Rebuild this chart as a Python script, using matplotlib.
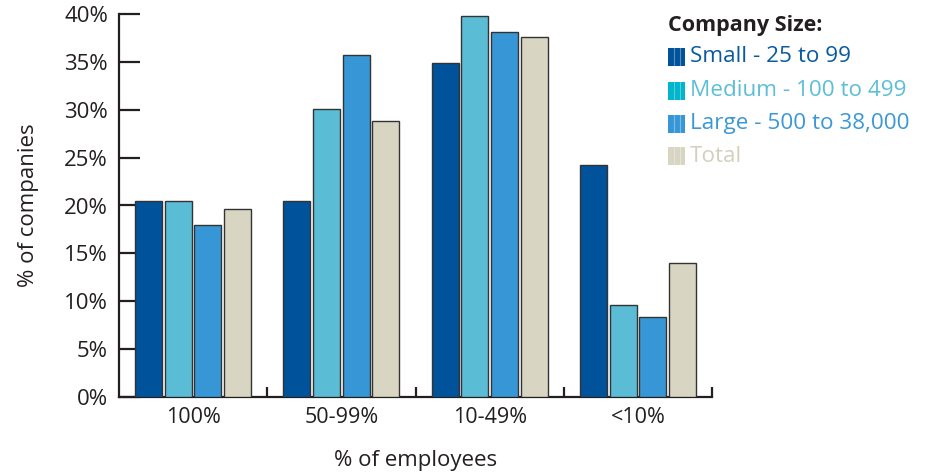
import matplotlib
matplotlib.use("Agg")
import matplotlib.pyplot as plt
from matplotlib.patches import Rectangle
import numpy as np

plt.rcParams['font.family'] = ['Open Sans', 'DejaVu Sans']

categories = ["100%", "50-99%", "10-49%", "<10%"]
series_names = ["Small - 25 to 99", "Medium - 100 to 499", "Large - 500 to 38,000", "Total"]
small = [20.5, 20.5, 34.9, 24.2]
medium = [20.5, 30.1, 39.8, 9.6]
large = [18.0, 35.7, 38.1, 8.4]
total = [19.6, 28.8, 37.6, 14.0]
yticks = [0, 5, 10, 15, 20, 25, 30, 35, 40]
ytick_labels = ["0%", "5%", "10%", "15%", "20%", "25%", "30%", "35%", "40%"]

bar_colors = ["#00529B", "#5BBDD5", "#3797D6", "#D8D5C3"]
text_colors = ["#0A5AA0", "#5BBFD6", "#3A98D6", "#D3D0BF"]
swatch_colors = ["#00529B", "#00B5CC", "#3797D6", "#D8D5C3"]
dark = "#231F20"

fig = plt.figure(figsize=(9.33, 4.74), dpi=100)
ax = fig.add_axes([119/933, 1-397/474, (712-119)/933, (397-14)/474])

x = np.arange(len(categories))
offsets = [-0.3, -0.1, 0.1, 0.3]
width = 0.182
for vals, off, col in zip([small, medium, large, total], offsets, bar_colors):
    ax.bar(x + off, vals, width=width, color=col, edgecolor="#333333", linewidth=1.0, zorder=3)

ax.set_xlim(-0.5, 3.5)
ax.set_ylim(0, 40)
ax.set_yticks(yticks)
ax.set_yticklabels(ytick_labels)
ax.set_xticks(x)
ax.set_xticklabels(categories)
ax.set_xticks([0.5, 1.5, 2.5, 3.5], minor=True)

ax.tick_params(axis='y', direction='in', length=15, width=1.6, color=dark,
               labelsize=16, labelcolor=dark, pad=8)
ax.tick_params(axis='x', which='major', length=0, labelsize=15.5, labelcolor=dark, pad=7)
ax.tick_params(axis='x', which='minor', direction='in', length=7, width=1.6, color=dark)

for s in ['top', 'right']:
    ax.spines[s].set_visible(False)
for s in ['left', 'bottom']:
    ax.spines[s].set_color(dark)
    ax.spines[s].set_linewidth(1.6)

ax.set_ylabel("% of companies", fontsize=16, color=dark, labelpad=18)
ax.set_xlabel("% of employees", fontsize=16, color=dark, labelpad=16)

# Legend (manual)
H, W = 474, 933
fig.text(668/W, 1-25/H, "Company Size:", fontsize=15.5, fontweight='bold', color=dark,
         va='center', ha='left')
ys = [57, 91, 124, 156]
for name, yc, tc, sc in zip(series_names, ys, text_colors, swatch_colors):
    y0 = 1 - (yc + 9)/H
    fig.patches.append(Rectangle((668/W, y0), 17/W, 18/H, transform=fig.transFigure,
                                 facecolor=sc, edgecolor='none'))
    for lx in [674, 680]:
        fig.lines.append(plt.Line2D([lx/W, lx/W], [y0, y0 + 18/H], transform=fig.transFigure,
                                    color='white', alpha=0.35, linewidth=0.8))
    fig.text(690/W, 1-yc/H, name, fontsize=16.2, color=tc, va='center', ha='left')

fig.savefig("out.png", dpi=100)
